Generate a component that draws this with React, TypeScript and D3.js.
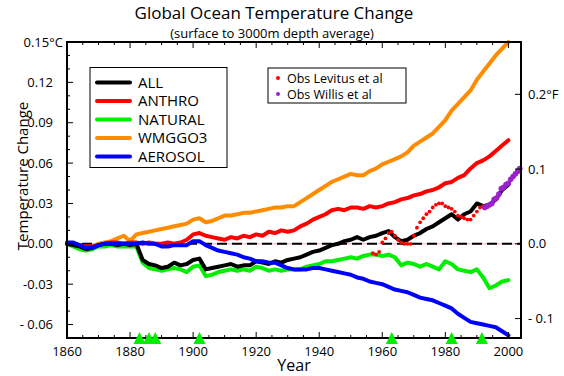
import React from 'react';
import * as d3 from 'd3';

const YEARS = [1860, 1862, 1864, 1866, 1868, 1870, 1872, 1874, 1876, 1878, 1880, 1882, 1884, 1886, 1888, 1890, 1892, 1894, 1896, 1898, 1900, 1902, 1904, 1906, 1908, 1910, 1912, 1914, 1916, 1918, 1920, 1922, 1924, 1926, 1928, 1930, 1932, 1934, 1936, 1938, 1940, 1942, 1944, 1946, 1948, 1950, 1952, 1954, 1956, 1958, 1960, 1962, 1964, 1966, 1968, 1970, 1972, 1974, 1976, 1978, 1980, 1982, 1984, 1986, 1988, 1990, 1992, 1994, 1996, 1998, 2000];

const ALL = [0.000, -0.001, -0.002, -0.004, -0.003, -0.001, 0.000, 0.000, -0.001, 0.000, -0.001, 0.000, -0.012, -0.015, -0.016, -0.018, -0.017, -0.014, -0.016, -0.015, -0.012, -0.011, -0.019, -0.018, -0.017, -0.016, -0.015, -0.017, -0.016, -0.016, -0.013, -0.014, -0.015, -0.013, -0.014, -0.012, -0.011, -0.010, -0.008, -0.006, -0.005, -0.003, -0.001, 0.000, 0.002, 0.003, 0.005, 0.003, 0.005, 0.006, 0.008, 0.0095, 0.005, 0.002, 0.003, 0.006, 0.008, 0.011, 0.013, 0.016, 0.019, 0.022, 0.018, 0.022, 0.024, 0.030, 0.028, 0.029, 0.033, 0.040, 0.044];

const ANTHRO = [0.000, 0.000, -0.001, -0.002, -0.002, -0.001, 0.000, 0.001, 0.001, 0.000, 0.001, 0.001, 0.000, 0.001, 0.000, 0.000, 0.001, 0.000, 0.001, 0.003, 0.007, 0.008, 0.006, 0.005, 0.004, 0.003, 0.005, 0.004, 0.006, 0.005, 0.007, 0.006, 0.009, 0.008, 0.010, 0.009, 0.010, 0.013, 0.015, 0.018, 0.020, 0.022, 0.025, 0.026, 0.025, 0.027, 0.027, 0.026, 0.028, 0.027, 0.028, 0.030, 0.031, 0.033, 0.034, 0.036, 0.037, 0.039, 0.040, 0.042, 0.045, 0.046, 0.049, 0.051, 0.056, 0.060, 0.062, 0.065, 0.069, 0.073, 0.077];

const NATURAL = [0.000, -0.002, -0.004, -0.005, -0.004, -0.002, -0.002, -0.001, -0.002, -0.002, -0.002, -0.002, -0.014, -0.018, -0.019, -0.020, -0.019, -0.018, -0.019, -0.021, -0.017, -0.016, -0.024, -0.023, -0.021, -0.020, -0.019, -0.020, -0.019, -0.020, -0.017, -0.018, -0.020, -0.019, -0.020, -0.019, -0.019, -0.019, -0.017, -0.016, -0.015, -0.013, -0.013, -0.012, -0.011, -0.010, -0.011, -0.009, -0.008, -0.008, -0.009, -0.008, -0.010, -0.016, -0.014, -0.015, -0.017, -0.015, -0.017, -0.019, -0.013, -0.015, -0.019, -0.020, -0.021, -0.019, -0.025, -0.033, -0.031, -0.028, -0.027];

const WMGGO3 = [0.000, -0.001, -0.002, -0.003, -0.002, 0.000, 0.001, 0.002, 0.004, 0.006, 0.002, 0.007, 0.008, 0.009, 0.010, 0.011, 0.012, 0.013, 0.014, 0.015, 0.018, 0.019, 0.016, 0.017, 0.019, 0.021, 0.021, 0.022, 0.023, 0.023, 0.024, 0.025, 0.026, 0.027, 0.027, 0.028, 0.028, 0.031, 0.034, 0.037, 0.040, 0.043, 0.046, 0.048, 0.050, 0.052, 0.051, 0.051, 0.054, 0.056, 0.059, 0.061, 0.063, 0.065, 0.068, 0.073, 0.076, 0.079, 0.082, 0.087, 0.092, 0.099, 0.104, 0.109, 0.114, 0.122, 0.128, 0.134, 0.140, 0.145, 0.150];

const AEROSOL = [0.001, 0.001, -0.001, -0.003, -0.003, -0.001, 0.000, 0.000, 0.000, 0.000, 0.000, 0.000, 0.001, 0.000, 0.000, -0.002, -0.002, -0.001, -0.001, -0.001, 0.002, 0.002, -0.001, -0.003, -0.005, -0.006, -0.007, -0.008, -0.010, -0.011, -0.013, -0.013, -0.014, -0.014, -0.016, -0.018, -0.019, -0.019, -0.019, -0.018, -0.018, -0.019, -0.020, -0.021, -0.022, -0.023, -0.025, -0.026, -0.028, -0.029, -0.030, -0.032, -0.034, -0.035, -0.036, -0.038, -0.040, -0.041, -0.042, -0.044, -0.046, -0.048, -0.052, -0.055, -0.058, -0.059, -0.060, -0.061, -0.062, -0.065, -0.068];

const LEVITUS_YEARS = [1957, 1958, 1959, 1960, 1961, 1962, 1963, 1964, 1965, 1966, 1967, 1968, 1969, 1970, 1971, 1972, 1973, 1974, 1975, 1976, 1977, 1978, 1979, 1980, 1981, 1982, 1983, 1984, 1985, 1986, 1987, 1988, 1989, 1990, 1991, 1992];
const LEVITUS = [-0.007, -0.008, -0.006, 0.001, 0.004, 0.008, 0.009, 0.006, 0.003, 0.001, 0.000, 0.000, 0.000, 0.006, 0.012, 0.016, 0.019, 0.022, 0.024, 0.027, 0.029, 0.030, 0.030, 0.028, 0.027, 0.026, 0.024, 0.021, 0.020, 0.019, 0.018, 0.018, 0.021, 0.024, 0.027, 0.028];

const WILLIS_YEARS = [1992.5, 1993.25, 1994, 1994.75, 1995.5, 1996.25, 1997, 1997.75, 1998.5, 1999.25, 2000, 2000.75, 2001.5, 2002.25, 2003, 2003.6];
const WILLIS = [0.027, 0.028, 0.029, 0.030, 0.033, 0.034, 0.037, 0.041, 0.042, 0.044, 0.045, 0.048, 0.050, 0.052, 0.054, 0.056];

const VOLCANO_YEARS = [1883, 1886, 1888, 1902, 1963, 1982, 1991.6];

const LEFT_TICKS = [0.15, 0.12, 0.09, 0.06, 0.03, 0, -0.03, -0.06];
const LEFT_TICK_LABELS = ['0.15\u00B0C', '0.12', '0.09', '0.06', '0.03', '0.00', '-0.03', '- 0.06'];
const RIGHT_TICKS_F = [0.2, 0.1, 0, -0.1];
const RIGHT_TICK_LABELS = ['0.2\u00B0F', '0.1', '0.0', '- 0.1'];
const X_TICKS = [1860, 1880, 1900, 1920, 1940, 1960, 1980, 2000];

const SERIES_NAMES = ['ALL', 'ANTHRO', 'NATURAL', 'WMGGO3', 'AEROSOL'];
const SERIES_COLORS = ['#000000', '#ff0000', '#00ee00', '#ff8c00', '#0000ff'];
const SERIES_VALUES = [ALL, ANTHRO, NATURAL, WMGGO3, AEROSOL];
const DRAW_ORDER = [3, 1, 2, 0, 4];

const FONT = '"Open Sans", "DejaVu Sans", sans-serif';

export default function App() {
  const W = 564, H = 376;
  const L = 67, R = 521, T = 42, B = 338;
  const x = d3.scaleLinear().domain([1860, 2004]).range([L, R]);
  const y = d3.scaleLinear().domain([-0.07, 0.15]).range([B, T]);
  const line = d3.line<number>().x((_, i) => x(YEARS[i])).y(d => y(d)).curve(d3.curveLinear);

  const minorY = d3.range(-7, 16).map(v => v / 100).filter(v => !LEFT_TICKS.some(t => Math.abs(t - v) < 1e-9));
  const minorX = d3.range(1865, 2004, 5).filter(v => v % 20 !== 0);

  return (
    <svg width={W} height={H} style={{ position: 'absolute', left: 0, top: 0, background: '#fff' }} fontFamily={FONT}>
      <rect x={0} y={0} width={W} height={H} fill="#fff" />
      <text x={274} y={18.5} textAnchor="middle" fontSize={17}>Global Ocean Temperature Change</text>
      <text x={272} y={37.5} textAnchor="middle" fontSize={13}>(surface to 3000m depth average)</text>

      {/* zero line */}
      <line x1={L} x2={R} y1={y(0)} y2={y(0)} stroke="#f4a8d8" strokeWidth={1} />
      <line x1={L} x2={R} y1={y(0)} y2={y(0)} stroke="#000" strokeWidth={2} strokeDasharray="10,5" />

      {DRAW_ORDER.map(i => (
        <path key={SERIES_NAMES[i]} d={line(SERIES_VALUES[i]) || ''} fill="none" stroke={SERIES_COLORS[i]} strokeWidth={4} strokeLinejoin="round" strokeLinecap="round" />
      ))}

      {LEVITUS.map((v, i) => (
        <circle key={'lev' + i} cx={x(LEVITUS_YEARS[i])} cy={y(v)} r={1.9} fill="#ff0000" />
      ))}
      {WILLIS.map((v, i) => (
        <circle key={'wil' + i} cx={x(WILLIS_YEARS[i])} cy={y(v)} r={2.8} fill="#9922cc" />
      ))}

      {/* frame */}
      <rect x={L} y={T} width={R - L} height={B - T} fill="none" stroke="#000" strokeWidth={2} />

      {/* left ticks */}
      {LEFT_TICKS.map((v, i) => (
        <g key={'lt' + i}>
          <line x1={L} x2={L + 6} y1={y(v)} y2={y(v)} stroke="#000" strokeWidth={1} />
          <text x={i === 0 ? 63 : 53} y={y(v)} dy="0.35em" textAnchor="end" fontSize={13}>{LEFT_TICK_LABELS[i]}</text>
        </g>
      ))}
      {minorY.map(v => (
        <line key={'my' + v} x1={L} x2={L + 3} y1={y(v)} y2={y(v)} stroke="#000" strokeWidth={1} />
      ))}

      {/* right ticks (F) */}
      {RIGHT_TICKS_F.map((f, i) => (
        <g key={'rt' + i}>
          <line x1={R - 6} x2={R} y1={y(f / 1.8)} y2={y(f / 1.8)} stroke="#000" strokeWidth={1} />
          <text x={528} y={y(f / 1.8)} dy="0.35em" textAnchor="start" fontSize={13}>{RIGHT_TICK_LABELS[i]}</text>
        </g>
      ))}

      {/* bottom / top ticks */}
      {X_TICKS.map(v => (
        <g key={'xt' + v}>
          <line x1={x(v)} x2={x(v)} y1={B} y2={B - 6} stroke="#000" strokeWidth={1} />
          <line x1={x(v)} x2={x(v)} y1={T} y2={T + 6} stroke="#000" strokeWidth={1} />
          <text x={x(v)} y={356} textAnchor="middle" fontSize={13}>{v}</text>
        </g>
      ))}
      {minorX.map(v => (
        <g key={'mx' + v}>
          <line x1={x(v)} x2={x(v)} y1={B} y2={B - 3} stroke="#000" strokeWidth={1} />
          <line x1={x(v)} x2={x(v)} y1={T} y2={T + 3} stroke="#000" strokeWidth={1} />
        </g>
      ))}

      {/* volcano triangles */}
      {VOLCANO_YEARS.map(v => (
        <path key={'vol' + v} d={`M${x(v) - 6},${B + 6}L${x(v) + 6},${B + 6}L${x(v)},${B - 6}Z`} fill="#00ee00" />
      ))}

      <text x={294} y={371} textAnchor="middle" fontSize={16}>Year</text>
      <text transform={`translate(28,176) rotate(-90)`} textAnchor="middle" fontSize={15}>Temperature Change</text>

      {/* legend 1 */}
      <rect x={90} y={67.5} width={137} height={100} fill="#fff" stroke="#000" strokeWidth={1} />
      {SERIES_NAMES.map((n, i) => (
        <g key={'leg' + n}>
          <line x1={97} x2={130} y1={82.5 + i * 18.5} y2={82.5 + i * 18.5} stroke={SERIES_COLORS[i]} strokeWidth={4} strokeLinecap="round" />
          <text x={138} y={82.5 + i * 18.5} dy="0.36em" fontSize={15}>{n}</text>
        </g>
      ))}

      {/* legend 2 */}
      <rect x={268} y={68} width={138} height={35} fill="#fff" stroke="#000" strokeWidth={1} />
      <circle cx={278} cy={78} r={2} fill="#ff0000" />
      <text x={287} y={78} dy="0.36em" fontSize={12.5}>Obs Levitus et al</text>
      <circle cx={278} cy={94} r={2} fill="#9922cc" />
      <text x={287} y={94} dy="0.36em" fontSize={12.5}>Obs Willis et al</text>
    </svg>
  );
}
